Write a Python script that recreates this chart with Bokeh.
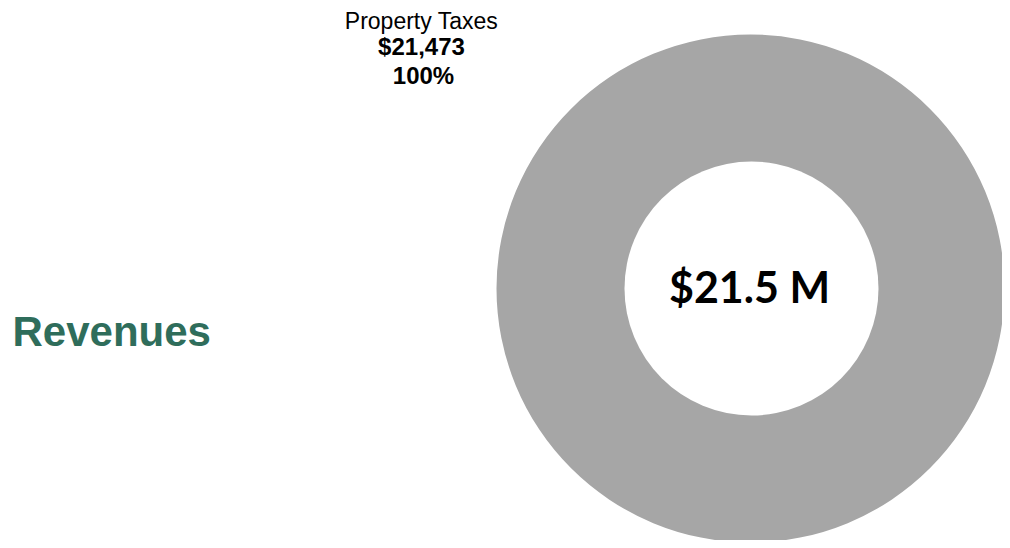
import math
from bokeh.plotting import figure
from bokeh.models import Range1d, ColumnDataSource
from bokeh.core.properties import value
from bokeh.embed import file_html
from bokeh.resources import INLINE

# ---- data ----
categories = ["Property Taxes"]
amounts = [21473]          # $ thousands
slice_colors = ["#A6A6A6"]
section_title = "Revenues"

total = sum(amounts)

# angles from cumulative shares
starts, ends = [], []
acc = 0.0
for a in amounts:
    starts.append(math.pi / 2 + 2 * math.pi * acc / total)
    acc += a
    ends.append(math.pi / 2 + 2 * math.pi * acc / total)

CX, CY = 750, 288
R_OUT, R_IN = 254, 127

src = ColumnDataSource(dict(
    x=[CX] * len(amounts), y=[CY] * len(amounts),
    start=starts, end=ends, color=slice_colors,
))

p = figure(width=1002, height=540, output_backend="svg", toolbar_location=None,
           x_range=Range1d(0, 1002), y_range=Range1d(540, 0),
           min_border=0, background_fill_color="white", border_fill_color="white")
p.axis.visible = False
p.grid.visible = False
p.outline_line_color = None

# donut: slices as wedges, hole as a white disc
p.wedge(x="x", y="y", radius=R_OUT, start_angle="start", end_angle="end",
        direction="anticlock", fill_color="color", line_color=None, source=src)
p.circle(x=[CX + 1], y=[CY], radius=R_IN, fill_color="white", line_color=None)

# outside label
label_x = 421
p.text(x=[label_x], y=[20], text=[categories[0]], text_font=value("Liberation Sans"),
       text_font_size="23px", text_align="center", text_baseline="alphabetic",
       text_color="black")
p.text(x=[label_x], y=[46], text=[f"${amounts[0]:,}"], text_font=value("Liberation Sans"),
       text_font_size="24px", text_font_style="bold", text_align="center",
       text_baseline="alphabetic", text_color="black")
p.text(x=[label_x + 2], y=[75], text=[f"{amounts[0] / total:.0%}"], text_font=value("Liberation Sans"),
       text_font_size="24px", text_font_style="bold", text_align="center",
       text_baseline="alphabetic", text_color="black")

# center total
p.text(x=[CX - 1], y=[286], text=[f"${total / 1000:.1f} M"], text_font=value("Lato"),
       text_font_size="43px", text_font_style="bold", text_align="center",
       text_baseline="alphabetic", text_color="black")

# section title
p.text(x=[12], y=[331], text=[section_title], text_font=value("Liberation Sans"),
       text_font_size="42px", text_font_style="bold", text_align="left",
       text_baseline="alphabetic", text_color="#2F6D5B")

open("out.html", "w").write(file_html(p, INLINE))
